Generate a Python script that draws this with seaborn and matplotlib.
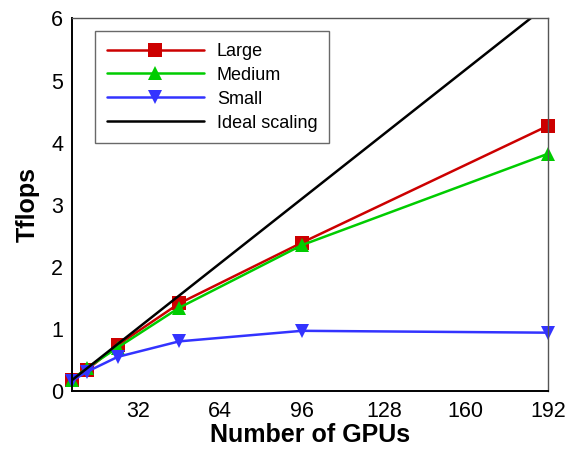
import matplotlib
matplotlib.use("Agg")
import matplotlib.pyplot as plt
import seaborn as sns
import pandas as pd

gpus = [6, 12, 24, 48, 96, 192]
large = [0.18, 0.34, 0.74, 1.41, 2.39, 4.27]
medium = [0.18, 0.37, 0.70, 1.34, 2.35, 3.82]
small = [0.16, 0.31, 0.55, 0.80, 0.97, 0.94]
ideal_gpus = [6, 192]
ideal = [0.17, 6.22]
x_ticks = [32, 64, 96, 128, 160, 192]
y_ticks = [0, 1, 2, 3, 4, 5, 6]

sns.set_theme(style="white")
plt.rcParams["font.family"] = ["Liberation Sans", "DejaVu Sans"]
plt.rcParams["text.color"] = "black"
plt.rcParams["axes.labelcolor"] = "black"

fig = plt.figure(figsize=(5.69, 4.5), dpi=100)
ax = fig.add_axes([0.1257, 0.131, 0.837, 0.828])

series = [
    ("Large", large, "#CC0000", "s"),
    ("Medium", medium, "#00CC00", "^"),
    ("Small", small, "#3333FF", "v"),
]
for name, vals, color, marker in series:
    df = pd.DataFrame({"gpus": gpus, "tflops": vals})
    sns.lineplot(data=df, x="gpus", y="tflops", ax=ax, color=color,
                 marker=marker, markersize=9.5, markeredgewidth=0,
                 linewidth=1.8, label=name, clip_on=False)

df_ideal = pd.DataFrame({"gpus": ideal_gpus, "tflops": ideal})
sns.lineplot(data=df_ideal, x="gpus", y="tflops", ax=ax, color="black",
             linewidth=1.8, label="Ideal scaling")

ax.set_xlim(6, 192)
ax.set_ylim(0, 6)
ax.set_xticks(x_ticks)
ax.set_yticks(y_ticks)
ax.tick_params(axis="both", direction="in", labelsize=15.5, labelcolor="black",
               width=1.0, pad=6)
ax.tick_params(axis="x", length=8, color="#333333", pad=7)
ax.tick_params(axis="y", length=6, color="#666666")
for s in ax.spines.values():
    s.set_color("black")
    s.set_linewidth(1.4)
ax.spines["top"].set_color("#555555")
ax.spines["right"].set_color("#555555")
ax.spines["top"].set_linewidth(1.0)
ax.spines["right"].set_linewidth(1.0)

ax.set_xlabel("Number of GPUs", fontsize=18, fontweight="bold", labelpad=1)
ax.set_ylabel("Tflops", fontsize=18, fontweight="bold", labelpad=8)

leg = ax.legend(loc="upper left", bbox_to_anchor=(0.03, 0.99), fontsize=13,
                frameon=True, fancybox=False, handlelength=5.4,
                labelspacing=0.38, borderpad=0.65, handletextpad=0.7)
leg.get_frame().set_edgecolor("#444444")
leg.get_frame().set_linewidth(1.0)
for t in leg.get_texts():
    t.set_color("black")

fig.savefig("out.png", dpi=100)
